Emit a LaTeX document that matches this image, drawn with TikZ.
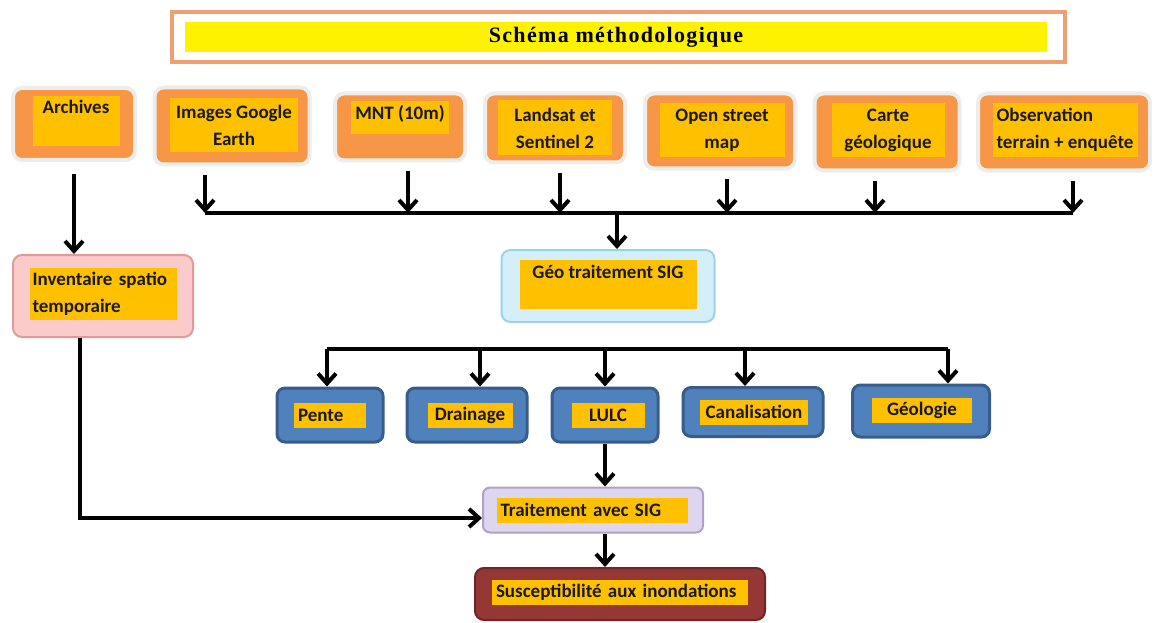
\documentclass[tikz,border=0pt]{standalone}
\usepackage{fontspec}
\setmainfont{Carlito}
\newfontfamily\titlefont[LetterSpace=6]{Liberation Serif}
\usetikzlibrary{arrows.meta}
\definecolor{srcorange}{HTML}{F79646}
\definecolor{gold}{HTML}{FFC000}
\definecolor{titleorange}{HTML}{F0A070}
\definecolor{pinkfill}{HTML}{FBCACA}
\definecolor{pinkdraw}{HTML}{E09A98}
\definecolor{geofill}{HTML}{D5EFF8}
\definecolor{geodraw}{HTML}{9BD3E6}
\definecolor{bluefill}{HTML}{4F81BD}
\definecolor{bluedraw}{HTML}{385D8A}
\definecolor{lavfill}{HTML}{DDD6EE}
\definecolor{lavdraw}{HTML}{B2A1C7}
\definecolor{redfill}{HTML}{953735}
\definecolor{reddraw}{HTML}{6E2624}
\newcommand\boxfont{\bfseries\fontsize{19}{27}\selectfont}
\tikzset{
  src/.style={rounded corners=9, fill=srcorange, draw=black!7, line width=4},
  inbox/.style={fill=gold, inner sep=0, font=\boxfont, text=black!90},
  pinkbox/.style={rounded corners=9, fill=pinkfill, draw=pinkdraw, line width=2},
  geobox/.style={rounded corners=9, fill=geofill, draw=geodraw, line width=2},
  bluebox/.style={rounded corners=8, fill=bluefill, draw=bluedraw, line width=3},
  lavbox/.style={rounded corners=7, fill=lavfill, draw=lavdraw, line width=2},
  redbox/.style={rounded corners=9, fill=redfill, draw=reddraw, line width=2},
  bus/.style={line width=4},
  arr/.style={line width=4, -{Straight Barb[length=10,width=18]}}
}
\begin{document}
\begin{tikzpicture}[x=1pt, y=-1pt]
\useasboundingbox (0,0) rectangle (1162,623);
% titre
\node[draw=titleorange, line width=4, minimum width=893, minimum height=50] (title) at (618,37) {};
\node[fill=yellow, minimum width=862, minimum height=30, font=\titlefont\bfseries\fontsize{22}{24}\selectfont] (titleT) at (616,37) {Schéma méthodologique};
% sources de donnees
\node[src, minimum width=122, minimum height=72] (arch) at (74,124) {};
\node[inbox, anchor=north, minimum width=87, inner ysep=4, text depth=28] (archT) at (76,96) {Archives};
\node[src, minimum width=155, minimum height=77] (img) at (232,126) {};
\node[inbox, minimum width=128, minimum height=54, align=center] (imgT) at (234,125) {Images Google\\Earth};
\node[src, minimum width=130, minimum height=67] (mnt) at (400,127) {};
\node[inbox, anchor=north, minimum width=98, inner ysep=4, text depth=11] (mntT) at (400,101) {MNT (10m)};
\node[src, minimum width=140, minimum height=69] (land) at (555,128) {};
\node[inbox, minimum width=114, minimum height=55, align=center] (landT) at (555,128) {Landsat et\\Sentinel 2};
\node[src, minimum width=150, minimum height=75] (osm) at (720,131) {};
\node[inbox, minimum width=125, minimum height=54, align=center] (osmT) at (722,130) {Open street\\map};
\node[src, minimum width=145, minimum height=77] (carte) at (887,132) {};
\node[inbox, minimum width=113, minimum height=54, align=center] (carteT) at (888,130) {Carte\\géologique};
\node[src, minimum width=172, minimum height=77] (obs) at (1064,132) {};
\node[inbox, minimum width=145, minimum height=54, align=left] (obsT) at (1065,130) {Observation\\terrain + enquête};
% traitements
\node[pinkbox, minimum width=180, minimum height=82] (inv) at (103,296) {};
\node[inbox, text width=141, inner xsep=3, minimum height=52, align=left] (invT) at (103,294) {Inventaire spatio\\temporaire};
\node[geobox, minimum width=213, minimum height=72] (geo) at (608,286) {};
\node[inbox, anchor=north, minimum width=177, inner ysep=5, text depth=25] (geoT) at (608,260) {Géo traitement SIG};
% couches
\node[bluebox, minimum width=106, minimum height=54] (pente) at (330,415) {};
\node[inbox, text width=64, inner xsep=4, minimum height=25, align=left] (penteT) at (330,415) {Pente};
\node[bluebox, minimum width=120, minimum height=54] (drain) at (467,415) {};
\node[inbox, minimum width=85, minimum height=25] (drainT) at (470,415) {Drainage};
\node[bluebox, minimum width=106, minimum height=54] (lulc) at (605,415) {};
\node[inbox, minimum width=73, minimum height=25] (lulcT) at (608,415) {LULC};
\node[bluebox, minimum width=140, minimum height=49] (canal) at (753,412) {};
\node[inbox, minimum width=108, minimum height=25] (canalT) at (754,412) {Canalisation};
\node[bluebox, minimum width=137, minimum height=52] (geol) at (921,411) {};
\node[inbox, minimum width=100, minimum height=25] (geolT) at (922,410) {Géologie};
% resultat
\node[lavbox, minimum width=220, minimum height=45] (trait) at (593,510) {};
\node[inbox, text width=183, inner xsep=4, minimum height=25, align=left] (traitT) at (592,510) {Traitement avec SIG};
\node[redbox, minimum width=290, minimum height=52] (susc) at (620,594) {};
\node[inbox, text width=248, inner xsep=4, minimum height=25, align=left] (suscT) at (620,592) {Susceptibilité aux inondations};
% connecteurs
\coordinate (busA) at (617,213);
\foreach \n/\dx in {img/-27, mnt/8, land/5, osm/7, carte/-12, obs/9}{
  \coordinate (\n B) at ([xshift=\dx]\n.south);
  \draw[arr] ([yshift=-8]\n B) -- (\n B |- busA);
}
\draw[bus] (imgB |- busA) -- (obsB |- busA);
\draw[arr] (busA) -- (busA |- geo.north);
\draw[arr] ([yshift=-12]arch.south) -- (arch.south |- inv.north);
\draw[arr] ([xshift=-23]inv.south) |- ([yshift=-8]trait.west);
\coordinate (busB) at (605,349);
\foreach \n/\dx in {pente/-3, drain/13, lulc/0, canal/-8, geol/27}{
  \coordinate (\n B) at ([xshift=\dx]\n.north);
  \draw[arr] (\n B |- busB) -- (\n B);
}
\draw[bus] (penteB |- busB) -- (geolB |- busB);
\draw[arr] (lulc.south) -- (trait.north -| lulc.south);
\draw[arr] (trait.south -| lulc.south) -- (susc.north -| lulc.south);
\end{tikzpicture}
\end{document}
